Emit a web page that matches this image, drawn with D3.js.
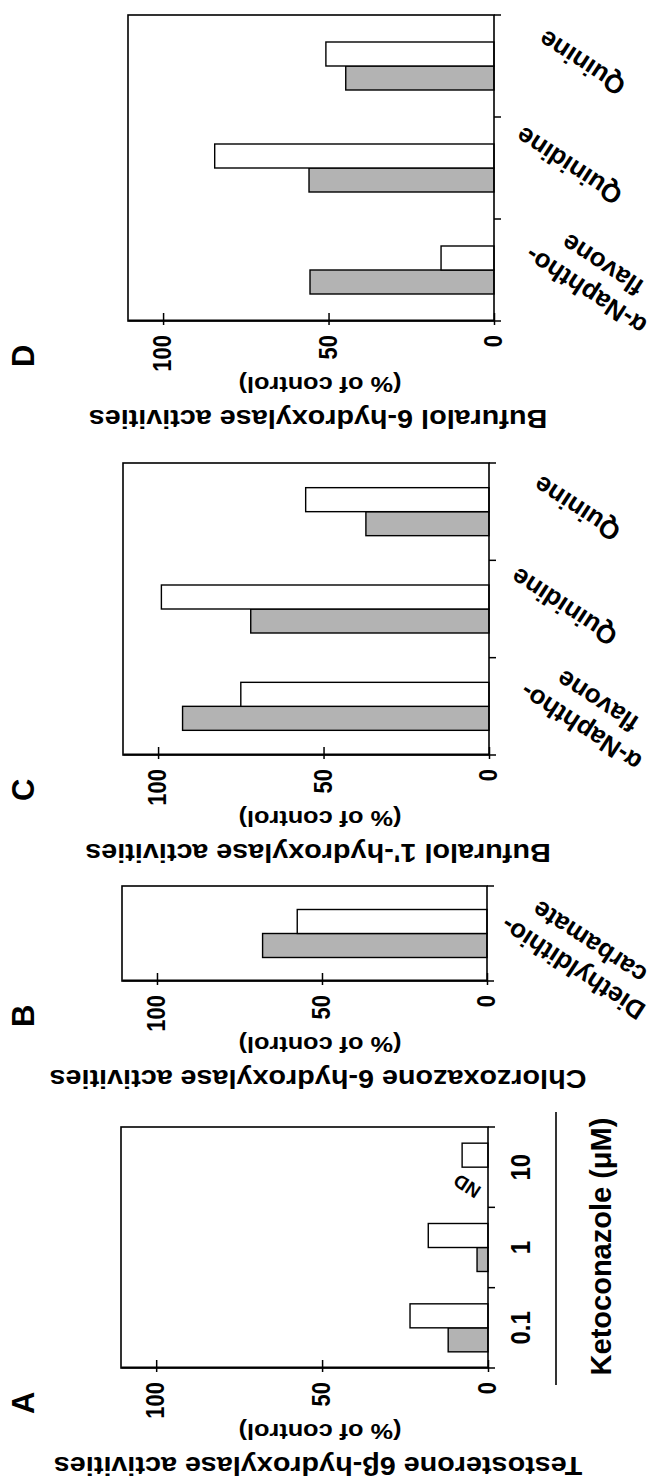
<!DOCTYPE html>
<html>
<head>
<meta charset="utf-8">
<script src="https://cdn.jsdelivr.net/npm/d3@7"></script>
<style>
  body { margin: 0; background: #fff; }
  svg text { font-family: "Liberation Sans", Arial, Helvetica, sans-serif; font-weight: bold; fill: #000; }
</style>
</head>
<body>
<div id="figure"></div>
<script>
// Values, in % of control
var panelLetters = ["A", "B", "C", "D"];
var yTitles = [
  "Testosterone 6\u03b2-hydroxylase activities",
  "Chlorzoxazone 6-hydroxylase activities",
  "Bufuralol 1'-hydroxylase activities",
  "Bufuralol 6-hydroxylase activities"
];
var yUnit = "(% of control)";
var yTicks = [0, 50, 100];

// A: ketoconazole doses
var ketoDoses = [["0.1"], ["1"], ["10"]];
var ketoGray = [12, 3.3, null];   // null = ND
var ketoWhite = [23.5, 18, 7.8];
var ketoAxisTitle = "Ketoconazole (\u03bcM)";

// B: diethyldithiocarbamate
var ddcLabel = [["Diethyldithio-", "carbamate"]];
var ddcGray = [68];
var ddcWhite = [57.5];

// C and D: same three inhibitors
var inhibitors = [["\u03b1-Naphtho-", "flavone"], ["Quinidine"], ["Quinine"]];
var buf1Gray = [92.6, 72, 37.2];
var buf1White = [75, 99, 55.4];
var buf6Gray = [55.6, 55.9, 44.8];
var buf6White = [16, 84.4, 50.8];

var panels = [
  { cats: ketoDoses, gray: ketoGray, white: ketoWhite, tilted: false },
  { cats: ddcLabel, gray: ddcGray, white: ddcWhite, tilted: true },
  { cats: inhibitors, gray: buf1Gray, white: buf1White, tilted: true },
  { cats: inhibitors, gray: buf6Gray, white: buf6White, tilted: true }
];

// page size, and the landscape figure that is turned a quarter turn like the scan
var svgWidth = 655;
var svgHeight = 1479;

// plot boxes in the landscape frame
var layout = [
  { x0: 111, x1: 352, top: 121, base: 488 },
  { x0: 498, x1: 593, top: 122, base: 487 },
  { x0: 724, x1: 1016, top: 123, base: 489 },
  { x0: 1158, x1: 1464, top: 128, base: 494 }
];
var yMax = 110.6;
var barWidth = 24;
var grayFill = "#b3b3b3";
// the scan is a bit stretched across the page, most texts look taller than wide
var textStretch = 1.15;

// where the centre of each slanted label sits, from tick centre and baseline
var labelNudge = {
  "\u03b1-Naphtho-": [-8, 100],
  "Quinidine": [2, 75],
  "Quinine": [3, 88],
  "Diethyldithio-": [-22, 94]
};

function stretched(x, y, angle) {
  return "translate(" + x + "," + y + ") scale(1," + textStretch + ")" + (angle ? " rotate(" + angle + ")" : "");
}

var svg = d3.select("#figure")
  .append("svg")
  .attr("width", svgWidth)
  .attr("height", svgHeight);

var fig = svg.append("g")
  .attr("transform", "translate(0," + svgHeight + ") rotate(-90)");

panels.forEach(function(p, i) {
  var L = layout[i];
  var g = fig.append("g").attr("class", "panel");

  var x = d3.scaleBand()
    .domain(d3.range(p.cats.length))
    .range([L.x0, L.x1]);
  var y = d3.scaleLinear()
    .domain([0, yMax])
    .range([L.base, L.top]);
  var sub = d3.scaleBand()
    .domain(["gray", "white"])
    .range([0, barWidth * 2]);

  function groupLeft(j) {
    return x(j) + (x.bandwidth() - barWidth * 2) / 2;
  }

  // bars
  p.cats.forEach(function(c, j) {
    var rows = [
      { k: "gray", v: p.gray[j] },
      { k: "white", v: p.white[j] }
    ].filter(function(d) { return d.v !== null; });

    g.selectAll(null)
      .data(rows)
      .enter()
      .append("rect")
      .attr("x", function(d) { return groupLeft(j) + sub(d.k); })
      .attr("y", function(d) { return y(d.v); })
      .attr("width", barWidth)
      .attr("height", function(d) { return y(0) - y(d.v); })
      .attr("fill", function(d) { return d.k === "gray" ? grayFill : "#fff"; })
      .attr("stroke", "#000")
      .attr("stroke-width", 1.4);

    if (p.gray[j] === null) {
      g.append("text")
        .attr("transform", "translate(" + (groupLeft(j) + sub("gray") + barWidth / 2 - 7) + "," + (y(0) - 21) + ") rotate(-57)")
        .attr("text-anchor", "middle")
        .attr("dy", "0.35em")
        .attr("font-size", 19)
        .text("ND");
    }
  });

  // frame
  g.append("rect")
    .attr("x", L.x0)
    .attr("y", L.top)
    .attr("width", L.x1 - L.x0)
    .attr("height", L.base - L.top)
    .attr("fill", "none")
    .attr("stroke", "#000")
    .attr("stroke-width", 1.6);

  // value axis
  var yAxis = g.append("g")
    .attr("transform", "translate(" + L.x0 + ",0)")
    .call(d3.axisLeft(y).tickValues(yTicks).tickSize(4).tickPadding(10).tickSizeOuter(0));
  yAxis.attr("font-family", null).attr("font-size", null);
  yAxis.select(".domain").attr("stroke-width", 2.2);
  yAxis.selectAll(".tick line").attr("x1", 8).attr("stroke-width", 1.5);
  yAxis.selectAll(".tick text")
    .attr("font-size", 22)
    .attr("transform", "scale(1," + textStretch + ")")
    .attr("dy", "0.3em");

  // category ticks below the baseline
  var bounds = x.domain().map(function(j) { return x(j); }).concat([L.x1]);
  g.selectAll(null)
    .data(bounds)
    .enter()
    .append("line")
    .attr("x1", function(d) { return d; })
    .attr("x2", function(d) { return d; })
    .attr("y1", L.base)
    .attr("y2", L.base + 7)
    .attr("stroke", "#000")
    .attr("stroke-width", 1.5);

  // category labels
  p.cats.forEach(function(lines, j) {
    var cx = x(j) + x.bandwidth() / 2;
    if (!p.tilted) {
      g.append("text")
        .attr("transform", stretched(cx, L.base + 42))
        .attr("text-anchor", "middle")
        .attr("font-size", 24)
        .text(lines[0]);
      return;
    }
    var n = labelNudge[lines[0]] || [0, 85];
    var t = g.append("text")
      .attr("transform", "translate(" + (cx + n[0]) + "," + (L.base + n[1]) + ") rotate(-57)")
      .attr("text-anchor", "middle")
      .attr("font-size", 26);
    lines.forEach(function(s, k) {
      t.append("tspan")
        .attr("x", 0)
        .attr("y", (k - (lines.length - 1) / 2) * 31)
        .attr("dy", "0.35em")
        .text(s);
    });
  });

  // value axis titles
  g.append("text")
    .attr("transform", stretched(L.x0 - 89, 318, -90))
    .attr("text-anchor", "middle")
    .attr("font-size", 25)
    .text(yTitles[i]);
  g.append("text")
    .attr("transform", stretched(L.x0 - 56, 320, -90))
    .attr("text-anchor", "middle")
    .attr("font-size", 22)
    .text(yUnit);

  // panel letter
  g.append("text")
    .attr("x", L.x0 - 46)
    .attr("y", 34)
    .attr("font-size", 31)
    .text(panelLetters[i]);

  // dose axis title for panel A
  if (i === 0) {
    g.append("line")
      .attr("x1", L.x0 - 17)
      .attr("x2", L.x1 + 15)
      .attr("y1", 556)
      .attr("y2", 556)
      .attr("stroke", "#000")
      .attr("stroke-width", 1.6);
    g.append("text")
      .attr("x", (L.x0 + L.x1) / 2 + 1)
      .attr("y", 611)
      .attr("text-anchor", "middle")
      .attr("font-size", 29)
      .text(ketoAxisTitle);
  }
});
</script>
</body>
</html>
